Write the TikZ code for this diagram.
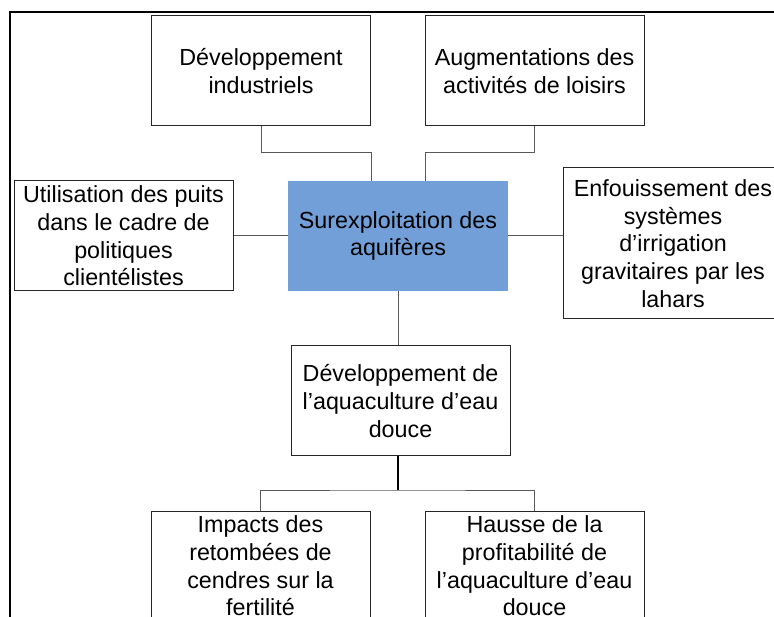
\documentclass[tikz,border=0pt]{standalone}
\usepackage{fontspec}
\setmainfont{Liberation Sans}
\definecolor{aquiblue}{RGB}{114,159,216}

\begin{document}
\begin{tikzpicture}[
  x=1pt, y=-1pt,
  font=\fontsize{23.3}{27.6}\selectfont,
  cause/.style={rectangle, draw=black!85, line width=1pt, align=center, minimum width=219pt, minimum height=110pt, inner sep=0pt},
  core/.style ={rectangle, fill=aquiblue, align=center, minimum width=220pt, minimum height=110pt, inner sep=0pt},
  link/.style ={draw=black!65, line width=1pt},
]
\useasboundingbox (0,0) rectangle (774,617);
\clip (0,0) rectangle (774,617);
% frame
\draw[line width=2pt] (10,617) -- (10,12) -- (774,12);
% causes
\node[cause] (dev)   at (261,71)     {Développement\\industriels};
\node[cause] (lois)  at (534.5,71)   {Augmentations des\\activités de loisirs};
\node[cause] (puits) at (123.5,236)  {Utilisation des puits\\dans le cadre de\\politiques\\clientélistes};
\node[core]  (sur)   at (398,236)    {Surexploitation des\\aquifères};
\node[cause, minimum width=220pt, minimum height=151pt] (enf) at (673,243.5) {Enfouissement des\\systèmes\\d’irrigation\\gravitaires par les\\lahars};
\node[cause] (aqua)  at (400.5,401)  {Développement de\\l’aquaculture d’eau\\douce};
% effects
\node[cause] (cendres) at (260.5,566) {Impacts des\\retombées de\\cendres sur la\\fertilité};
\node[cause] (profit)  at (534.5,566) {Hausse de la\\profitabilité de\\l’aquaculture d’eau\\douce};
% connectors
\coordinate (jl) at (371,153);
\coordinate (jr) at (425,153);
\coordinate (jb) at (398,490);
\draw[link] (dev.south) |- (jl) -- (jl |- sur.north);
\draw[link] (lois.south) |- (jr) -- (jr |- sur.north);
\draw[link] (puits.east) -- (sur.west);
\draw[link] (sur.east) -- (sur.east -| enf.west);
\draw[link] (sur.south) -- (sur.south |- aqua.north);
\draw[link, draw=black, line width=1.6pt] (jb |- aqua.south) -- (jb);
\draw[link] (cendres.north) |- (jb) -| (profit.north);
\end{tikzpicture}
\end{document}
